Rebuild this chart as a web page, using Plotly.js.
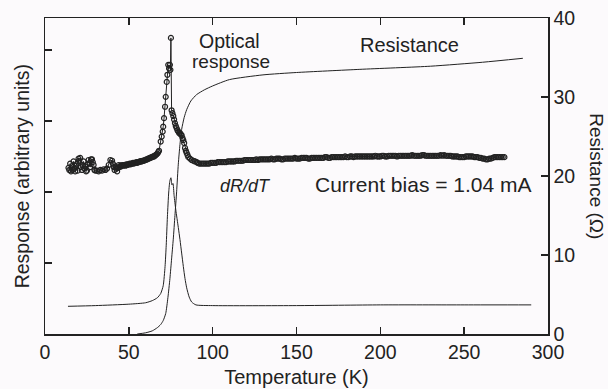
<!DOCTYPE html>
<html>
<head>
<meta charset="utf-8">
<script src="https://cdn.plot.ly/plotly-3.0.1.min.js"></script>
<style>
  html, body { margin: 0; padding: 0; background: #fcfafc; }
  #chart { width: 608px; height: 389px; }
</style>
</head>
<body>
<div id="chart"></div>
<script>
// Optical response (arbitrary units, left axis), read in segments
const optNoisyT = [14.0, 14.5, 15.0, 15.5, 16.0, 16.5, 17.0, 17.5, 18.0, 18.5, 19.0, 19.5, 20.0, 20.5, 21.0, 21.5,
  22.0, 22.5, 23.0, 23.5, 24.0, 24.5, 25.0, 25.5, 26.0, 26.5, 27.0, 27.5, 28.0, 28.5, 29.0, 29.5, 30.0,
  31, 32, 33, 34, 35, 36, 37, 38, 39];
const optNoisyU = [2.34, 2.31, 2.40, 2.29, 2.36, 2.31, 2.43, 2.33, 2.29, 2.37, 2.40, 2.30, 2.47, 2.44, 2.48, 2.35,
  2.31, 2.38, 2.43, 2.33, 2.36, 2.29, 2.30, 2.39, 2.45, 2.41, 2.35, 2.46, 2.46, 2.42, 2.38, 2.31, 2.30,
  2.30, 2.29, 2.31, 2.30, 2.32, 2.31, 2.33, 2.38, 2.45];

const optRiseT = [40, 40.5, 41, 41.5, 42, 42.5, 43, 43.5, 44, 44.5, 45, 45.5, 46, 46.5, 47, 47.5, 48, 48.5, 49, 49.5,
  50, 50.5, 51, 51.5, 52, 52.5, 53, 53.5, 54, 54.5, 55, 55.5, 56, 56.5, 57, 57.5, 58, 58.5, 59, 59.5,
  60, 60.5, 61, 61.5, 62, 62.5, 63, 63.5, 64, 64.5, 65, 65.5, 66, 66.5, 67, 67.5, 68];
const optRiseU = [2.44, 2.40, 2.35, 2.31, 2.36, 2.33, 2.29, 2.34, 2.38, 2.35, 2.37, 2.36, 2.38, 2.37, 2.38, 2.38, 2.37, 2.39, 2.38, 2.39,
  2.39, 2.40, 2.39, 2.40, 2.40, 2.41, 2.40, 2.41, 2.41, 2.42, 2.41, 2.42, 2.42, 2.43, 2.43, 2.43, 2.44, 2.44, 2.44, 2.45,
  2.45, 2.46, 2.46, 2.47, 2.47, 2.48, 2.48, 2.49, 2.49, 2.50, 2.50, 2.51, 2.52, 2.53, 2.54, 2.56, 2.58];

const optPeakT = [69.0, 69.6, 70.2, 70.5, 71.0, 71.6, 72.0, 72.6, 73.0, 73.5, 74.0, 74.5, 74.8, 75.1,
  75.5, 76.0, 76.5, 77.0, 77.5, 78.0, 78.5, 79.0, 79.5, 80.0, 80.5, 81.0, 81.5, 82.0,
  82.5, 83.0, 83.5, 84.0, 84.5, 85.0, 85.5, 86.5, 87.5, 88.5, 89.5, 90.5];
const optPeakU = [2.71, 2.78, 2.85, 2.92, 3.04, 3.20, 3.34, 3.55, 3.65, 3.79, 3.74, 3.79, 3.72, 4.17,
  3.15, 3.11, 3.07, 3.02, 2.97, 2.93, 2.90, 2.87, 2.85, 2.83, 2.83, 2.81, 2.80, 2.76,
  2.73, 2.69, 2.62, 2.58, 2.55, 2.52, 2.49, 2.47, 2.45, 2.44, 2.43, 2.42];

const optFlatT = [91, 92, 93, 94, 95, 96, 97, 98, 99,
  100, 101, 102, 103, 104, 105, 106, 107, 108, 109,
  110, 111, 112, 113, 114, 115, 116, 117, 118, 119,
  120, 121, 122, 123, 124, 125, 126, 127, 128, 129,
  130, 131, 132, 133, 134, 135, 136, 137, 138, 139,
  140, 141, 142, 143, 144, 145, 146, 147, 148, 149,
  150, 151, 152, 153, 154, 155, 156, 157, 158, 159,
  160, 161, 162, 163, 164, 165, 166, 167, 168, 169,
  170, 171, 172, 173, 174, 175, 176, 177, 178, 179,
  180, 181, 182, 183, 184, 185, 186, 187, 188, 189,
  190, 191, 192, 193, 194, 195, 196, 197, 198, 199,
  200, 201, 202, 203, 204, 205, 206, 207, 208, 209,
  210, 211, 212, 213, 214, 215, 216, 217, 218, 219,
  220, 221, 222, 223, 224, 225, 226, 227, 228, 229,
  230, 231, 232, 233, 234, 235, 236, 237, 238, 239,
  240, 241, 242, 243, 244, 245, 246, 247, 248, 249,
  250, 251, 252, 253, 254, 255, 256, 257, 258, 259,
  260, 261, 262, 263, 264, 265, 266, 267, 268, 269,
  270, 271, 272, 273, 274];
const optFlatU = [2.41, 2.40, 2.40, 2.40, 2.40, 2.40, 2.40, 2.40, 2.41,
  2.41, 2.41, 2.41, 2.42, 2.42, 2.42, 2.42, 2.42, 2.42, 2.43,
  2.43, 2.43, 2.43, 2.43, 2.44, 2.44, 2.44, 2.44, 2.44, 2.45,
  2.45, 2.45, 2.45, 2.45, 2.45, 2.45, 2.46, 2.45, 2.46, 2.46,
  2.46, 2.46, 2.46, 2.46, 2.46, 2.47, 2.46, 2.46, 2.47, 2.47,
  2.47, 2.46, 2.46, 2.47, 2.47, 2.47, 2.47, 2.47, 2.47, 2.48,
  2.47, 2.47, 2.47, 2.48, 2.48, 2.48, 2.48, 2.47, 2.47, 2.48,
  2.48, 2.48, 2.48, 2.48, 2.48, 2.48, 2.48, 2.49, 2.49, 2.48,
  2.48, 2.49, 2.49, 2.49, 2.49, 2.49, 2.49, 2.49, 2.49, 2.50,
  2.49, 2.49, 2.50, 2.50, 2.49, 2.50, 2.50, 2.50, 2.50, 2.50,
  2.50, 2.50, 2.50, 2.50, 2.50, 2.50, 2.50, 2.51, 2.50, 2.50,
  2.50, 2.51, 2.51, 2.50, 2.50, 2.51, 2.51, 2.51, 2.51, 2.51,
  2.50, 2.51, 2.51, 2.51, 2.51, 2.51, 2.51, 2.51, 2.51, 2.52,
  2.51, 2.51, 2.51, 2.51, 2.51, 2.52, 2.52, 2.51, 2.51, 2.51,
  2.51, 2.51, 2.51, 2.51, 2.51, 2.51, 2.52, 2.51, 2.52, 2.51,
  2.51, 2.51, 2.51, 2.50, 2.50, 2.50, 2.50, 2.49, 2.49, 2.49,
  2.49, 2.50, 2.50, 2.50, 2.50, 2.50, 2.49, 2.49, 2.49, 2.48,
  2.48, 2.47, 2.47, 2.46, 2.46, 2.47, 2.47, 2.48, 2.49, 2.49,
  2.49, 2.49, 2.49, 2.49, 2.49];

// dR/dT (arbitrary units, left axis)
const dRdT_T = [13.7, 30, 50, 60, 64, 67, 69, 70.5, 71.6, 72.3, 73.0, 73.8, 74.5, 75.1, 75.7, 76.3, 77.0, 78.0,
  79.5, 80.5, 81.5, 82.5, 83.5, 84.5, 86.0, 87.5, 90, 100, 150, 200, 250, 290];
const dRdT_U = [0.39, 0.40, 0.42, 0.44, 0.47, 0.51, 0.57, 0.68, 0.95, 1.25, 1.65, 2.00, 2.16, 2.20, 2.10, 2.12, 1.95, 1.75,
  1.50, 1.33, 1.14, 0.95, 0.78, 0.65, 0.52, 0.45, 0.41, 0.40, 0.40, 0.41, 0.41, 0.41];

// Resistance (ohm, right axis)
const resT = [55, 60, 64, 67, 69, 70.5, 72, 73.3, 74.5, 75.5, 76.5, 77.5, 78.5, 79.5, 80.5, 81.5, 83, 84.5, 87,
  90.4, 95, 100, 110, 130, 150, 187.8, 230, 261, 285];
const resR = [0.0, 0.15, 0.4, 0.8, 1.2, 1.7, 2.6, 4.6, 7.0, 9.5, 12.0, 15.0, 18.0, 21.5, 24.0, 25.9, 27.4, 28.4, 29.5,
  30.3, 30.9, 31.4, 32.2, 32.8, 33.1, 33.5, 33.9, 34.4, 34.9];

const xTicks = [0, 50, 100, 150, 200, 250, 300];
const leftTicks = [1, 2, 3, 4];
const rightTicks = [0, 10, 20, 30, 40];

const opticalT = optNoisyT.concat(optRiseT, optPeakT, optFlatT);
const opticalU = optNoisyU.concat(optRiseU, optPeakU, optFlatU);

const ink = '#222222';
const font = 'Liberation Sans, Arial, Helvetica, sans-serif';

const traces = [
  {
    x: resT, y: resR, yaxis: 'y2', type: 'scatter', mode: 'lines',
    line: {color: ink, width: 1, shape: 'spline', smoothing: 0.6}, hoverinfo: 'skip', showlegend: false
  },
  {
    x: dRdT_T, y: dRdT_U, type: 'scatter', mode: 'lines',
    line: {color: ink, width: 1, shape: 'spline', smoothing: 0.6}, hoverinfo: 'skip', showlegend: false
  },
  {
    x: opticalT, y: opticalU, type: 'scatter', mode: 'lines+markers',
    line: {color: ink, width: 1},
    marker: {symbol: 'circle-open', size: 5, color: ink, line: {width: 1.2, color: ink}},
    hoverinfo: 'skip', showlegend: false
  }
];

const layout = {
  width: 608, height: 389,
  margin: {l: 45, r: 60, t: 18, b: 55},
  paper_bgcolor: '#fcfafc', plot_bgcolor: '#fcfafc',
  font: {family: font, size: 19, color: ink},
  showlegend: false,
  xaxis: {
    range: [0, 300], tickvals: xTicks, ticktext: xTicks.map(String),
    ticks: 'inside', ticklen: 7, tickwidth: 1.5, tickcolor: ink,
    showline: true, linecolor: ink, linewidth: 1.5, mirror: 'ticks',
    showgrid: false, zeroline: false,
    tickfont: {family: font, size: 19.5, color: ink},
    title: {text: 'Temperature (K)', font: {family: font, size: 20, color: ink}, standoff: 8}
  },
  yaxis: {
    range: [0, 4.45], tickvals: leftTicks, showticklabels: false,
    ticks: 'inside', ticklen: 7, tickwidth: 1.5, tickcolor: ink,
    showline: true, linecolor: ink, linewidth: 1.5,
    showgrid: false, zeroline: false
  },
  yaxis2: {
    overlaying: 'y', side: 'right', range: [0, 40], tickvals: rightTicks, ticktext: rightTicks.map(String),
    ticks: 'inside', ticklen: 7, tickwidth: 1.5, tickcolor: ink,
    showline: true, linecolor: ink, linewidth: 1.5,
    showgrid: false, zeroline: false,
    tickfont: {family: font, size: 19.5, color: ink}
  },
  annotations: [
    {text: 'Response (arbitrary units)', xref: 'paper', yref: 'paper', x: -0.045, y: 0.5,
     xanchor: 'center', yanchor: 'middle', textangle: -90, showarrow: false,
     font: {family: font, size: 19.5, color: ink}},
    {text: 'Resistance (Ω)', xref: 'paper', yref: 'paper', x: 1.097, y: 0.5,
     xanchor: 'center', yanchor: 'middle', textangle: 90, showarrow: false,
     font: {family: font, size: 19, color: ink}},
    {text: 'Optical', xref: 'x', yref: 'paper', x: 110, y: 0.927,
     xanchor: 'center', yanchor: 'middle', showarrow: false,
     font: {family: font, size: 19.5, color: ink}},
    {text: 'response', xref: 'x', yref: 'paper', x: 111, y: 0.861,
     xanchor: 'center', yanchor: 'middle', showarrow: false,
     font: {family: font, size: 19, color: ink}},
    {text: 'Resistance', xref: 'x', yref: 'paper', x: 217.6, y: 0.915,
     xanchor: 'center', yanchor: 'middle', showarrow: false,
     font: {family: font, size: 20, color: ink}},
    {text: '<i>dR/dT</i>', xref: 'x', yref: 'paper', x: 119.3, y: 0.468,
     xanchor: 'center', yanchor: 'middle', showarrow: false,
     font: {family: font, size: 18, color: ink}},
    {text: 'Current bias = 1.04 mA', xref: 'x', yref: 'paper', x: 226, y: 0.472,
     xanchor: 'center', yanchor: 'middle', showarrow: false,
     font: {family: font, size: 21, color: ink}}
  ]
};

Plotly.newPlot('chart', traces, layout, {staticPlot: true, displayModeBar: false});
</script>
</body>
</html>
